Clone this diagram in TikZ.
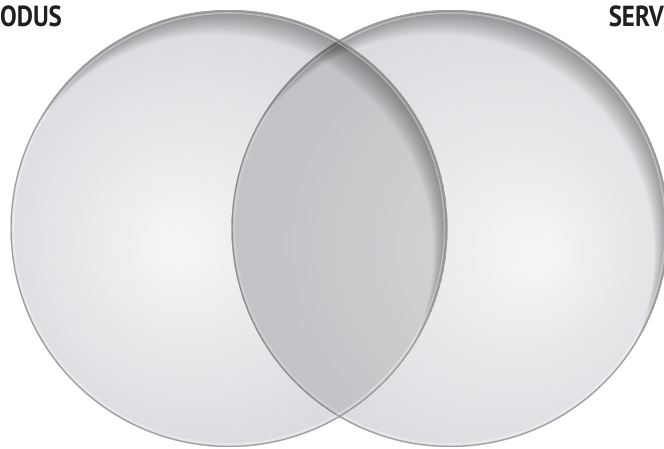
\documentclass[tikz,border=0pt]{standalone}
\usepackage{fontspec}
\setmainfont{PT Sans}
\definecolor{cLight}{RGB}{246,246,247}
\definecolor{cMid}{RGB}{232,233,235}
\definecolor{cEdge}{RGB}{219,220,223}
\definecolor{txt}{RGB}{35,31,32}
\pgfdeclareradialshading{discshadeL}{\pgfpoint{-6bp}{-2bp}}{color(0bp)=(cLight); color(12bp)=(cMid); color(24bp)=(cEdge); color(50bp)=(cEdge)}
\pgfdeclareradialshading{discshadeR}{\pgfpoint{10bp}{-3bp}}{color(0bp)=(cLight); color(12bp)=(cMid); color(26bp)=(cEdge); color(50bp)=(cEdge)}
% base fill of a disc
\newcommand\discbase[3]{%
  \begin{scope}
    \clip (#1,#2) circle[radius=218.5pt];
    \shade[shading=#3] (#1,#2) circle[radius=218.5pt];
  \end{scope}}
% rim shadow, bevel and outline of a disc
\newcommand\discrim[2]{%
  \begin{scope}
    \clip (#1,#2) circle[radius=218.5pt];
    \foreach \d in {2,4,...,28}
      \fill[black,opacity=0.028,even odd rule] (#1,#2) circle[radius=218.5pt] (#1-0.5*\d,#2-0.85*\d) circle[radius=218.5pt];
    \draw[white,opacity=0.35,line width=1.6pt] (#1,#2) circle[radius=215.5pt];
    \draw[black!38,line width=2.4pt] (#1,#2) circle[radius=218.5pt];
  \end{scope}}
\tikzset{label text/.style={text=txt,font=\bfseries\fontsize{29}{31}\selectfont,inner sep=0pt,xscale=0.86}}
\begin{document}
\begin{tikzpicture}[x=1pt,y=1pt]
  \clip (0,0) rectangle (664,448);
  \fill[white] (0,0) rectangle (664,448);
  % left disc
  \discbase{229}{219.5}{discshadeL}
  \discrim{229}{219.5}
  % right disc
  \discbase{450}{219.5}{discshadeR}
  \discrim{450}{219.5}
  % overlap: the left disc seen through the right one
  \begin{scope}
    \clip (450,219.5) circle[radius=218.5pt];
    \fill[black,opacity=0.11] (229,219.5) circle[radius=218.5pt];
    \discrim{229}{219.5}
  \end{scope}
  \node[label text,anchor=base west] (produs) at (0,421) {ODUS};
  \node[label text,anchor=base east] (servicii) at (664,421) {SERV};
\end{tikzpicture}
\end{document}
